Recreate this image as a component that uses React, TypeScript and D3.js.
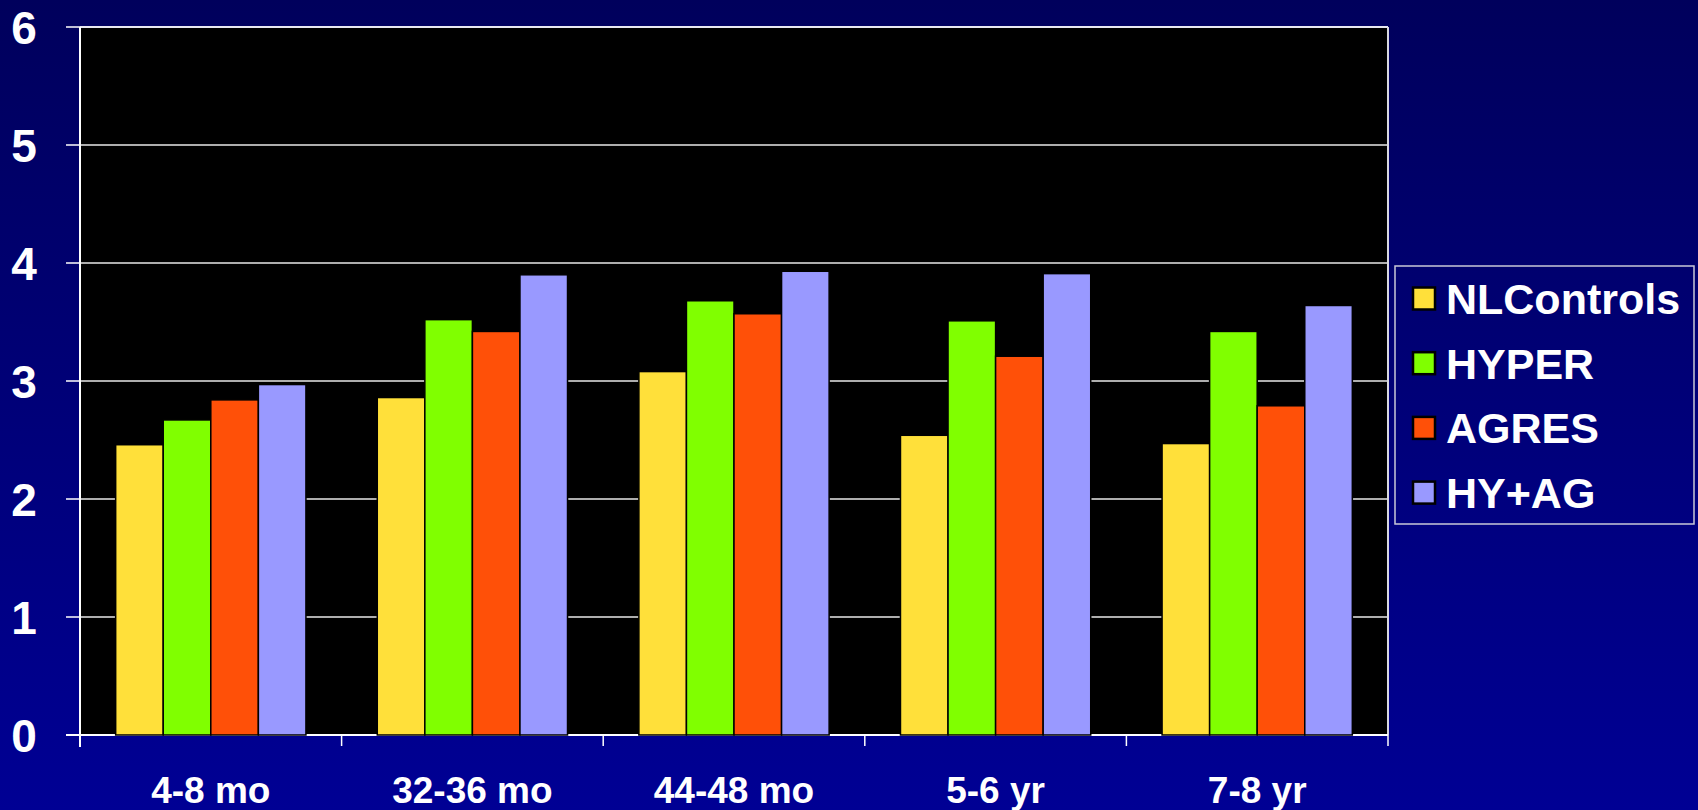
import React from "react";
import * as d3 from "d3";

const categories = ["4-8 mo", "32-36 mo", "44-48 mo", "5-6 yr", "7-8 yr"];
const seriesNames = ["NLControls", "HYPER", "AGRES", "HY+AG"];
const nlControls = [2.46, 2.86, 3.08, 2.54, 2.47];
const hyper = [2.67, 3.52, 3.68, 3.51, 3.42];
const agres = [2.84, 3.42, 3.57, 3.21, 2.79];
const hyAg = [2.97, 3.90, 3.93, 3.91, 3.64];
const yTicks = [0, 1, 2, 3, 4, 5, 6];
const seriesColors = ["#FFE03A", "#80FF00", "#FF5008", "#9999FF"];

const W = 1698;
const H = 810;
const plot = { left: 80, right: 1388, top: 27, bottom: 735 };
const FONT = "'Liberation Sans', Arial, Helvetica, sans-serif";

export default function App() {
  const seriesValues = [nlControls, hyper, agres, hyAg];

  const x = d3
    .scaleBand<string>()
    .domain(categories)
    .range([plot.left, plot.right])
    .paddingInner(0)
    .paddingOuter(0);

  const band = x.bandwidth();
  // Excel-style clustered bars: gap width 150% of a bar
  const barW = band / (seriesNames.length + 1.5);
  const groupOffset = barW * 0.75;

  const y = d3.scaleLinear().domain([0, 6]).range([plot.bottom, plot.top]);

  const boundaries = d3.range(categories.length + 1).map((i) => plot.left + i * band);

  const legend = { x: 1395, y: 266, w: 299, h: 258 };
  const rowStep = 64.7;
  const firstRow = 298.5;

  return (
    <svg
      width={W}
      height={H}
      style={{ position: "absolute", left: 0, top: 0, display: "block" }}
      xmlns="http://www.w3.org/2000/svg"
    >
      <defs>
        <linearGradient id="bg" x1="0" y1="0" x2="0" y2="1">
          <stop offset="0" stopColor="#00005C" />
          <stop offset="1" stopColor="#000094" />
        </linearGradient>
      </defs>
      <rect x={0} y={0} width={W} height={H} fill="url(#bg)" />

      {/* plot area */}
      <rect
        x={plot.left}
        y={plot.top}
        width={plot.right - plot.left}
        height={plot.bottom - plot.top}
        fill="#000"
      />

      {/* gridlines */}
      {yTicks
        .filter((t) => t > 0 && t < 6)
        .map((t) => (
          <line
            key={"g" + t}
            x1={plot.left}
            x2={plot.right}
            y1={y(t)}
            y2={y(t)}
            stroke="#E8E8E8"
            strokeWidth={1.5}
          />
        ))}

      {/* frame */}
      <line x1={plot.left} x2={plot.right} y1={plot.top} y2={plot.top} stroke="#E8E8F0" strokeWidth={2} />
      <line x1={plot.right} x2={plot.right} y1={plot.top} y2={plot.bottom} stroke="#D8D8E0" strokeWidth={2} />
      <line x1={plot.left} x2={plot.left} y1={plot.top} y2={plot.bottom + 12} stroke="#FFFFFF" strokeWidth={2} />
      <line x1={plot.left - 14} x2={plot.right} y1={plot.bottom} y2={plot.bottom} stroke="#FFFFFF" strokeWidth={2} />

      {/* y ticks and labels */}
      {yTicks.map((t) => (
        <g key={"y" + t}>
          <line x1={plot.left - 14} x2={plot.left} y1={y(t)} y2={y(t)} stroke="#FFFFFF" strokeWidth={1.5} />
          <text
            x={24}
            y={y(t)}
            dy="0.36em"
            textAnchor="middle"
            fill="#FFFFFF"
            fontFamily={FONT}
            fontWeight="bold"
            fontSize={46}
          >
            {t}
          </text>
        </g>
      ))}

      {/* x ticks */}
      {boundaries.map((bx, i) => (
        <line key={"xt" + i} x1={bx} x2={bx} y1={plot.bottom} y2={plot.bottom + 11} stroke="#FFFFFF" strokeWidth={1.5} />
      ))}

      {/* bars */}
      {categories.map((c, ci) =>
        seriesValues.map((vals, si) => {
          const x0 = (x(c) as number) + groupOffset + si * barW;
          return (
            <rect
              key={c + si}
              x={x0}
              y={y(vals[ci])}
              width={barW}
              height={plot.bottom - y(vals[ci])}
              fill={seriesColors[si]}
              stroke="#000"
              strokeWidth={1.5}
            />
          );
        })
      )}

      {/* x labels */}
      {categories.map((c) => (
        <text
          key={"xl" + c}
          x={(x(c) as number) + band / 2}
          y={803}
          textAnchor="middle"
          fill="#FFFFFF"
          fontFamily={FONT}
          fontWeight="bold"
          fontSize={37}
        >
          {c}
        </text>
      ))}

      {/* legend */}
      <rect
        x={legend.x}
        y={legend.y}
        width={legend.w}
        height={legend.h}
        fill="none"
        stroke="#C8C8D8"
        strokeWidth={1.5}
      />
      {seriesNames.map((name, i) => {
        const cy = firstRow + i * rowStep;
        return (
          <g key={"lg" + name}>
            <rect
              x={1413}
              y={cy - 11}
              width={22}
              height={22}
              fill={seriesColors[i]}
              stroke="#000"
              strokeWidth={2.5}
            />
            <text
              x={1446}
              y={cy}
              dy="0.36em"
              fill="#FFFFFF"
              fontFamily={FONT}
              fontWeight="bold"
              fontSize={43}
            >
              {name}
            </text>
          </g>
        );
      })}
    </svg>
  );
}
